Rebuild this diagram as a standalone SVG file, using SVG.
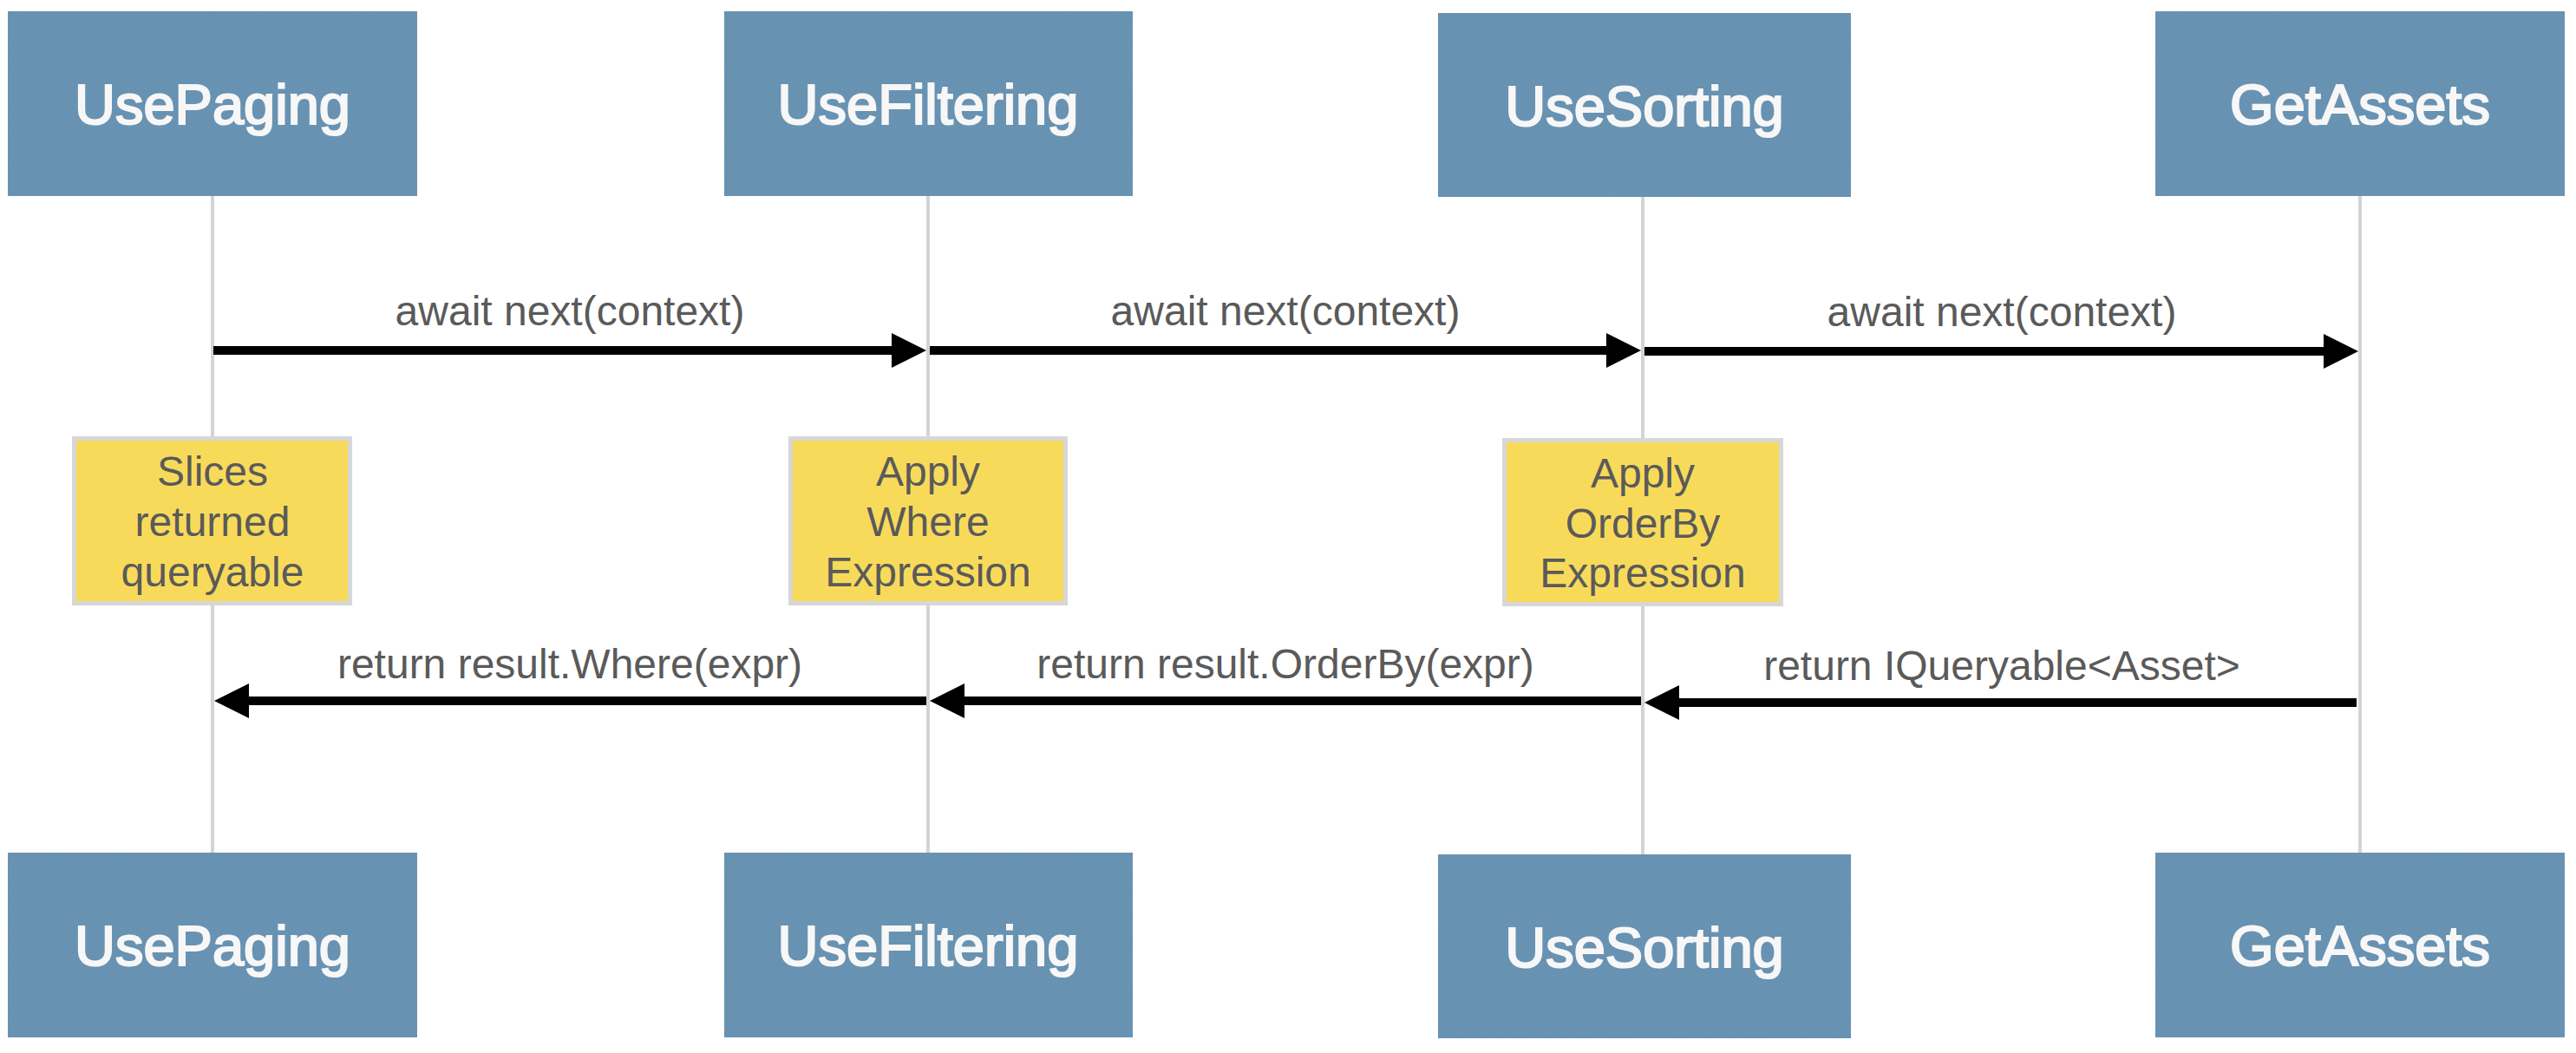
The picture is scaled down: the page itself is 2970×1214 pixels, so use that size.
<svg xmlns="http://www.w3.org/2000/svg" width="2970" height="1214" viewBox="0 0 2970 1214">
<style>
.actor{fill:#6590b0;}
.actor-t{font-family:"Liberation Sans",Arial,sans-serif;font-size:65px;fill:#f7f7f7;stroke:#f7f7f7;stroke-width:2.2px;text-anchor:middle;}
.life{stroke:#d4d4d4;stroke-width:4;fill:none;}
.note{fill:#f8da5a;stroke:#d7d7d7;stroke-width:5;}
.note-t{font-family:"Liberation Sans",Arial,sans-serif;font-size:48px;fill:#5a5a5a;text-anchor:middle;}
.msg{stroke:#000;stroke-width:10;fill:none;}
.head{fill:#000;}
.lbl{font-family:"Liberation Sans",Arial,sans-serif;font-size:48px;fill:#5a5a5a;text-anchor:middle;}
</style>
<defs>
<filter id="paper" x="0" y="0" width="1" height="1">
<feTurbulence type="fractalNoise" baseFrequency="0.6" numOctaves="3" seed="4" result="n"/>
<feColorMatrix in="n" type="matrix" values="0 0 0 0 0.25  0 0 0 0 0.4  0 0 0 0 0.55  0 0 0 0.18 0" result="c"/>
<feComposite in="c" in2="SourceGraphic" operator="in" result="t"/>
<feMerge><feMergeNode in="SourceGraphic"/><feMergeNode in="t"/></feMerge>
</filter>
</defs>
<rect width="2970" height="1214" fill="#ffffff"/>

<g id="lifelines">
<line class="life" x1="245" y1="222" x2="245" y2="985"/>
<line class="life" x1="1070" y1="222" x2="1070" y2="985"/>
<line class="life" x1="1894" y1="222" x2="1894" y2="987"/>
<line class="life" x1="2721" y1="222" x2="2721" y2="985"/>
</g>

<g id="UsePaging-top"><rect class="actor" filter="url(#paper)" x="9" y="13" width="472" height="213"/><text class="actor-t" x="245" y="143">UsePaging</text></g>
<g id="UseFiltering-top"><rect class="actor" filter="url(#paper)" x="835" y="13" width="471" height="213"/><text class="actor-t" x="1070" y="143">UseFiltering</text></g>
<g id="UseSorting-top"><rect class="actor" filter="url(#paper)" x="1658" y="15" width="476" height="212"/><text class="actor-t" x="1896" y="145">UseSorting</text></g>
<g id="GetAssets-top"><rect class="actor" filter="url(#paper)" x="2485" y="13" width="472" height="213"/><text class="actor-t" x="2721" y="143">GetAssets</text></g>

<g id="UsePaging-bottom"><rect class="actor" filter="url(#paper)" x="9" y="983" width="472" height="213"/><text class="actor-t" x="245" y="1113">UsePaging</text></g>
<g id="UseFiltering-bottom"><rect class="actor" filter="url(#paper)" x="835" y="983" width="471" height="213"/><text class="actor-t" x="1070" y="1113">UseFiltering</text></g>
<g id="UseSorting-bottom"><rect class="actor" filter="url(#paper)" x="1658" y="985" width="476" height="212"/><text class="actor-t" x="1896" y="1115">UseSorting</text></g>
<g id="GetAssets-bottom"><rect class="actor" filter="url(#paper)" x="2485" y="983" width="472" height="213"/><text class="actor-t" x="2721" y="1113">GetAssets</text></g>

<g id="note-slices"><rect class="note" x="85.5" y="505.5" width="318" height="190"/>
<text class="note-t" x="245" y="560">Slices</text><text class="note-t" x="245" y="618">returned</text><text class="note-t" x="245" y="676">queryable</text></g>
<g id="note-where"><rect class="note" x="911.5" y="505.5" width="317" height="190"/>
<text class="note-t" x="1070" y="560">Apply</text><text class="note-t" x="1070" y="618">Where</text><text class="note-t" x="1070" y="676">Expression</text></g>
<g id="note-orderby"><rect class="note" x="1734.5" y="507.5" width="319" height="189"/>
<text class="note-t" x="1894" y="562">Apply</text><text class="note-t" x="1894" y="620">OrderBy</text><text class="note-t" x="1894" y="677">Expression</text></g>

<g id="connectors">
<line class="msg" x1="246" y1="404" x2="1032" y2="404"/><polygon class="head" points="1028,384 1068,404 1028,424"/>
<text class="lbl" x="657" y="375">await next(context)</text>
<line class="msg" x1="1072" y1="404" x2="1856" y2="404"/><polygon class="head" points="1852,384 1892,404 1852,424"/>
<text class="lbl" x="1482" y="375">await next(context)</text>
<line class="msg" x1="1896" y1="405" x2="2683" y2="405"/><polygon class="head" points="2679,385 2719,405 2679,425"/>
<text class="lbl" x="2308" y="376">await next(context)</text>

<line class="msg" x1="1068" y1="808" x2="283" y2="808"/><polygon class="head" points="287,788 247,808 287,828"/>
<text class="lbl" x="657" y="782">return result.Where(expr)</text>
<line class="msg" x1="1892" y1="808" x2="1108" y2="808"/><polygon class="head" points="1112,788 1072,808 1112,828"/>
<text class="lbl" x="1482" y="782">return result.OrderBy(expr)</text>
<line class="msg" x1="2717" y1="810" x2="1932" y2="810"/><polygon class="head" points="1936,790 1896,810 1936,830"/>
<text class="lbl" x="2308" y="784">return IQueryable&lt;Asset&gt;</text>
</g>
</svg>
